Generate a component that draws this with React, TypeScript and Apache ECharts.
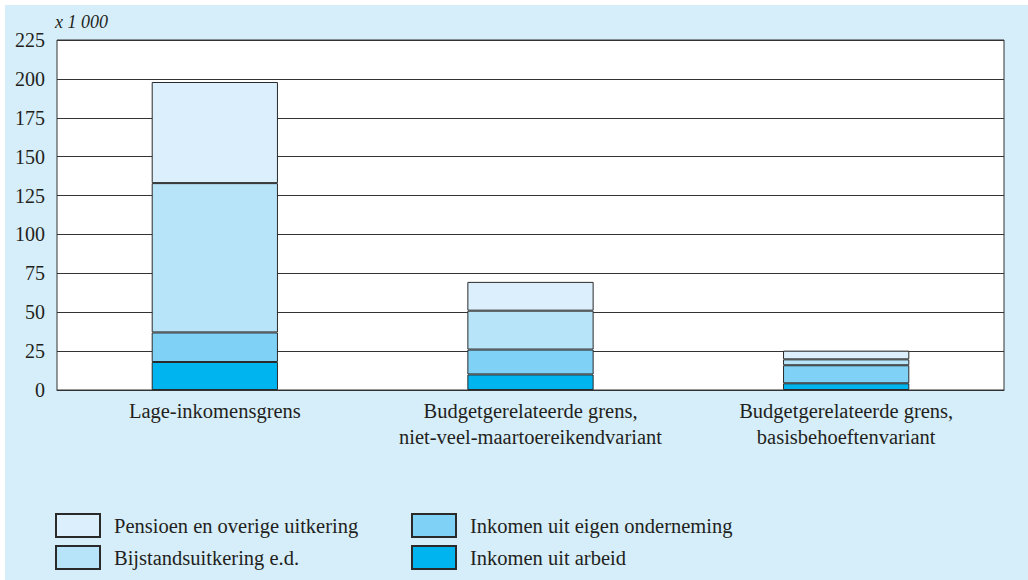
import React, { useEffect, useRef } from "react";
import * as echarts from "echarts";

const categories = [
  "Lage-inkomensgrens",
  "Budgetgerelateerde grens,\nniet-veel-maartoereikendvariant",
  "Budgetgerelateerde grens,\nbasisbehoeftenvariant",
];
const arbeid = [18, 10, 4.3];
const onderneming = [19, 16, 11.6];
const bijstand = [96, 25, 3.8];
const pensioen = [65, 18.5, 5.6];

const seriesNames = [
  "Inkomen uit arbeid",
  "Inkomen uit eigen onderneming",
  "Bijstandsuitkering e.d.",
  "Pensioen en overige uitkering",
];
const seriesColors = ["#00b5ef", "#7fd2f5", "#b8e4f9", "#dbf0fc"];
const unitLabel = "x 1 000";

const FONT = "'Liberation Serif', 'Times New Roman', serif";
const TEXT = "#231f20";

// legend slots: [series index, left, top]
const legendSlots: [number, number, number][] = [
  [3, 55, 513],
  [2, 55, 545],
  [1, 411, 513],
  [0, 411, 545],
];

export default function App() {
  const ref = useRef<HTMLDivElement>(null);
  useEffect(() => {
    document.body.style.margin = "0";
    const chart = echarts.init(ref.current!, null, { renderer: "svg" });
    const data = [arbeid, onderneming, bijstand, pensioen];
    chart.setOption({
      animation: false,
      backgroundColor: "#ffffff",
      textStyle: { fontFamily: FONT, color: TEXT },
      graphic: [
        {
          type: "rect",
          z: -100,
          silent: true,
          shape: { x: 5, y: 5, width: 1023, height: 575 },
          style: { fill: "#d6eefa" },
        },
        {
          type: "text",
          x: 55,
          y: 13,
          style: {
            text: unitLabel,
            fontFamily: FONT,
            fontStyle: "italic",
            fontSize: 18,
            fill: TEXT,
          },
        },
      ],
      grid: {
        left: 57,
        top: 40,
        width: 947,
        height: 350,
        show: true,
        backgroundColor: "#ffffff",
        borderColor: "#333",
        borderWidth: 1,
      },
      legend: legendSlots.map(([si, left, top]) => ({
        data: [seriesNames[si]],
        left,
        top,
        padding: 0,
        itemWidth: 44,
        itemHeight: 23,
        icon: "rect",
        selectedMode: false,
        textStyle: { fontFamily: FONT, fontSize: 20.5, color: TEXT, padding: [0, 0, 0, 9] },
      })),
      xAxis: {
        type: "category",
        data: categories,
        axisLine: { show: true, lineStyle: { color: "#333", width: 1 } },
        axisTick: { show: false },
        axisLabel: {
          fontFamily: FONT,
          fontSize: 20.5,
          color: TEXT,
          lineHeight: 26,
          margin: 8,
          interval: 0,
        },
      },
      yAxis: {
        type: "value",
        min: 0,
        max: 225,
        interval: 25,
        axisLine: { show: false },
        axisTick: { show: false },
        axisLabel: { fontFamily: FONT, fontSize: 20, color: TEXT, margin: 12 },
        splitLine: { lineStyle: { color: "#333", width: 1 } },
      },
      series: data.map((d, i) => ({
        name: seriesNames[i],
        type: "bar",
        stack: "total",
        data: d,
        barWidth: "40%",
        itemStyle: { color: seriesColors[i], borderColor: "#2a2a2a", borderWidth: 1 },
      })),
    });
    return () => chart.dispose();
  }, []);
  return <div ref={ref} style={{ width: 1028, height: 580 }} />;
}
